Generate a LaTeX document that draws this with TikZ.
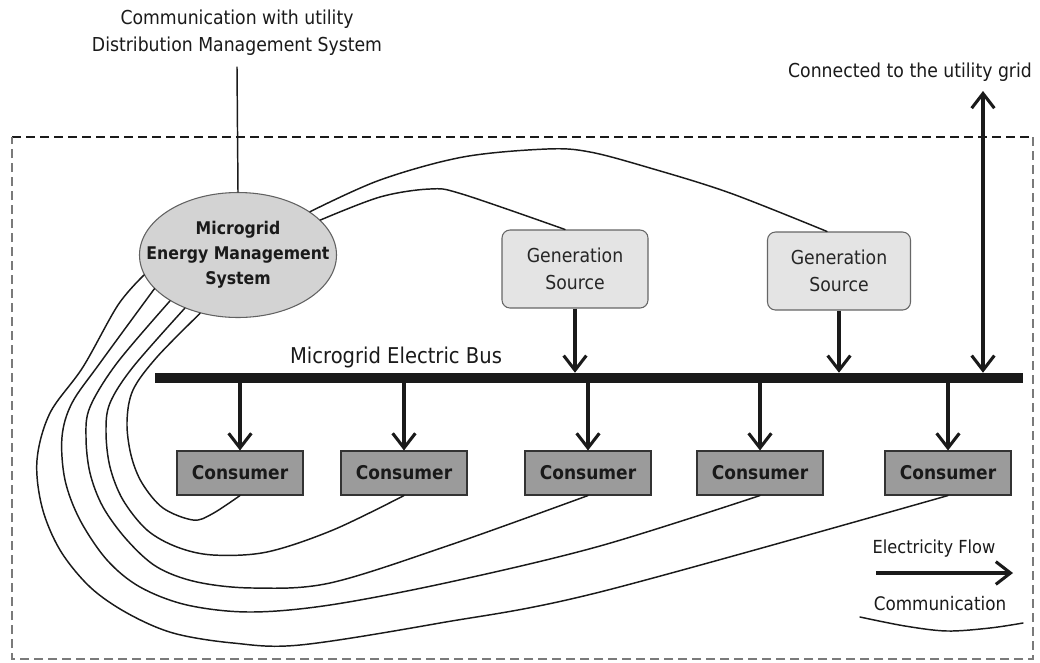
\documentclass[tikz,border=0pt]{standalone}
\usepackage{fontspec}
\setmainfont{DejaVu Sans}[FakeStretch=0.9]
\usetikzlibrary{arrows.meta,shapes.geometric,calc}

\definecolor{inkc}{HTML}{1A1A1A}
\definecolor{emsfill}{HTML}{D3D3D3}
\definecolor{genfill}{HTML}{E4E4E4}
\definecolor{consfill}{HTML}{9B9B9B}
\definecolor{framegray}{HTML}{7A7A7A}

\tikzset{
  lbl/.style={font=\fontsize{14.4}{20.25}\selectfont, text=inkc, align=center, inner sep=0pt},
  barb/.tip={Straight Barb[length=11pt,width=17pt]},
  elec/.style={line width=2.3pt, draw=inkc, -barb},
  elecboth/.style={line width=2.3pt, draw=inkc, barb-barb},
  comm/.style={line width=1.1pt, draw=inkc, line join=round, line cap=round},
  frame/.style={line width=0.9pt, dash pattern=on 6.75pt off 3.75pt},
  ems/.style={ellipse, draw=black!62, line width=0.8pt, fill=emsfill,
    minimum width=147.75pt, minimum height=93.75pt, inner sep=0pt},
  emstext/.style={align=center, inner sep=0pt, text=inkc,
    font=\bfseries\fontsize{13.1}{18.75}\selectfont},
  gen/.style={rectangle, rounded corners=6pt, draw=black!60, line width=0.8pt,
    fill=genfill, minimum height=58.5pt, inner sep=0pt, align=center,
    text=black!85, font=\fontsize{14.4}{20.25}\selectfont},
  cons/.style={rectangle, draw=black!80, line width=0.8pt, fill=consfill,
    minimum width=94.5pt, minimum height=33pt, inner sep=0pt,
    text=inkc, font=\bfseries\fontsize{14.2}{16}\selectfont},
  busbar/.style={rectangle, fill=inkc, minimum width=651pt, minimum height=7.5pt, inner sep=0pt},
}

\begin{document}
\begin{tikzpicture}[x=0.75pt,y=-0.75pt]
  \fill[white] (0,0) rectangle (1040,662);
  \useasboundingbox (0,0) rectangle (1040,662);

  % microgrid boundary
  \draw[frame, draw=inkc] (12,137) -- (1033,137);
  \draw[frame, draw=framegray] (1033,137) -- (1033,659) -- (12,659) -- (12,137);

  % main blocks
  \node[ems] (ems) at (238,255) {};
  \node[emstext] (emslbl) at (ems.center) {Microgrid\\Energy Management\\System};
  \node[gen, minimum width=109.5pt] (g1) at (575,269) {Generation\\Source};
  \node[gen, minimum width=107.25pt] (g2) at (839,271) {Generation\\Source};
  \node[busbar] (bus) at (589,378) {};
  \node[lbl, font=\fontsize{16.3}{20}\selectfont] (buslbl) at (396,357) {Microgrid Electric Bus};

  \node[cons] (c1) at (240,473) {Consumer};
  \node[cons] (c2) at (404,473) {Consumer};
  \node[cons] (c3) at (588,473) {Consumer};
  \node[cons] (c4) at (760,473) {Consumer};
  \node[cons] (c5) at (948,473) {Consumer};

  % external links
  \node[lbl] (dms) at (237,33) {Communication with utility\\Distribution Management System};
  \coordinate (dmsend) at (237,67);
  \draw[comm] (dmsend) -- (ems.north);

  \node[lbl] (gridlbl) at (910,72) {Connected to the utility grid};
  \coordinate (gridend) at (983,91);
  \draw[elecboth] (gridend) -- (gridend |- bus.north);

  % electricity flow
  \draw[elec] (g1.south) -- (g1.south |- bus.north);
  \draw[elec] (g2.south) -- (g2.south |- bus.north);
  \foreach \c in {c1,c2,c3,c4,c5}
    \draw[elec] (\c.north |- bus.south) -- (\c.north);

  % communication links
  \coordinate (g1in) at ([xshift=-7.5pt]g1.north);
  \coordinate (g2in) at ([xshift=-9pt]g2.north);
  \draw[comm] plot[smooth, tension=0.55] coordinates
    {(ems.23) (380,197) (430,189) (462,194) (g1in)};
  \draw[comm] plot[smooth, tension=0.55] coordinates
    {(ems.31) (380,180) (463,157) (547,149) (590,152) (650,168) (730,193) (g2in)};

  \draw[comm] plot[smooth, tension=0.55] coordinates
    {(ems.237) (157,357) (133,390) (127,422) (131,455) (142,483) (163,508) (193,520) (212,514) (c1.south)};
  \draw[comm] plot[smooth, tension=0.55] coordinates
    {(ems.225) (133,367) (110,403) (106,432) (110,467) (123,500) (147,530) (177,547) (213,555) (267,552) (333,530) (c2.south)};
  \draw[comm] plot[smooth, tension=0.55] coordinates
    {(ems.214) (117,363) (90,407) (86,437) (90,473) (103,507) (127,540) (157,567) (197,582) (253,588) (330,583) (450,545) (c3.south)};
  \draw[comm] plot[smooth, tension=0.55] coordinates
    {(ems.202) (100,363) (72,403) (62,437) (65,480) (80,520) (107,560) (140,587) (187,605) (250,612) (330,605) (450,582) (600,546) (c4.south)};
  \draw[comm] plot[smooth, tension=0.55] coordinates
    {(ems.192) (118,305) (83,367) (50,413) (37,460) (42,507) (60,550) (90,587) (127,613) (173,633) (233,643) (300,645) (440,623) (600,592) (c5.south)};

  % legend
  \node[lbl, font=\fontsize{13.5}{16}\selectfont] (legelec) at (934,549) {Electricity Flow};
  \coordinate (le1) at (876,573);
  \coordinate (le2) at (1013,573);
  \draw[elec] (le1) -- (le2);
  \node[lbl, font=\fontsize{14}{16}\selectfont] (legcomm) at (940,604) {Communication};
  \coordinate (lc1) at (860,617);
  \coordinate (lc2) at (1023,623);
  \draw[comm] plot[smooth, tension=0.55] coordinates {(lc1) (905,626) (947,631) (990,628) (lc2)};
\end{tikzpicture}
\end{document}
